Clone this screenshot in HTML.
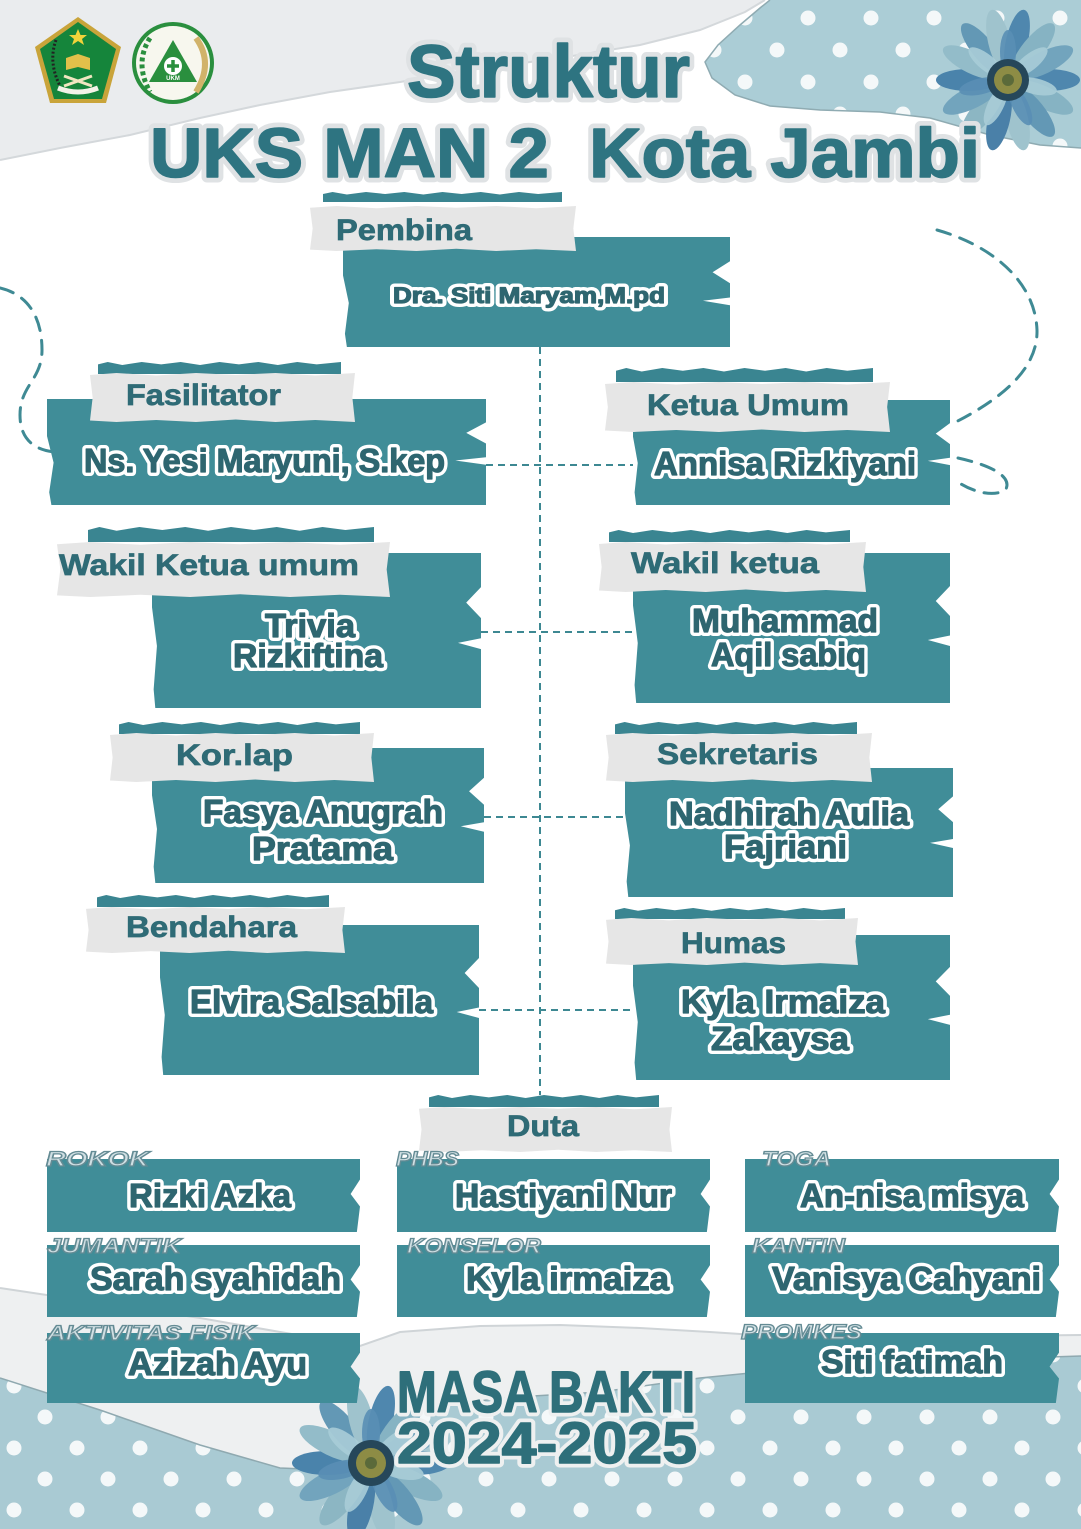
<!DOCTYPE html>
<html><head><meta charset="utf-8"><style>
html,body{margin:0;padding:0}
body{width:1081px;height:1529px;position:relative;overflow:hidden;background:#fff;font-family:"Liberation Sans",sans-serif}
svg.layer{position:absolute;left:0;top:0}
.t{position:absolute;background:#408d98;clip-path:polygon(0 0,100% 0,100% 22%,95.5% 32%,100% 42%,100% 55%,93% 58%,100% 62%,100% 100%,1% 100%,0.5% 88%,1.5% 60%,0 35%)}
.s{position:absolute;background:#3a8591;clip-path:polygon(0 20%,4% 0,10% 25%,18% 0,26% 20%,34% 0,42% 25%,50% 0,58% 20%,66% 0,74% 25%,82% 0,90% 20%,100% 0,100% 100%,0 100%)}
.g{position:absolute;background:#e6e6e6;clip-path:polygon(0 4%,10% 0,25% 5%,40% 0,55% 4%,70% 0,85% 5%,100% 0,99% 50%,100% 100%,85% 96%,70% 100%,55% 95%,40% 100%,25% 96%,10% 100%,0 97%,1% 50%)}
.d{position:absolute;background:#408d98;clip-path:polygon(0 0,100% 0,100% 28%,97% 48%,100% 65%,99% 100%,0 100%)}
</style></head><body>

<svg class="layer" width="1081" height="1529" viewBox="0 0 1081 1529">
<defs>
<pattern id="dotsB" width="63" height="62" patternUnits="userSpaceOnUse">
<rect width="63" height="62" fill="#a9cad3"/>
<circle cx="14" cy="22" r="7.5" fill="#f4f8f9"/>
<circle cx="45" cy="53" r="7.5" fill="#f4f8f9"/>
</pattern>
<pattern id="dotsT" width="63" height="64" patternUnits="userSpaceOnUse">
<rect width="63" height="64" fill="#abcdd6"/>
<circle cx="52" cy="18" r="7.5" fill="#f4f8f9"/>
<circle cx="21" cy="50" r="7.5" fill="#f4f8f9"/>
</pattern>
</defs>
<rect width="1081" height="1529" fill="#ffffff"/>
<polygon points="0,0 765,0 745,12 700,30 640,45 560,58 470,70 400,82 330,92 260,105 200,118 130,135 60,148 0,160" fill="#eaecee"/>
<polyline points="765,0 745,12 700,30 640,45 560,58 470,70 400,82 330,92 260,105 200,118 130,135 60,148 0,160" fill="none" stroke="#d4d8db" stroke-width="2"/>
<polygon points="770,0 1081,0 1081,148 1040,145 990,135 930,118 880,112 820,110 770,106 735,95 712,78 705,62 718,45 740,25 760,8" fill="url(#dotsT)"/>
<polyline points="770,0 760,8 740,25 718,45 705,62 712,78 735,95 770,106 820,110 880,112 930,118 990,135 1040,145 1081,148" fill="none" stroke="#8fabb2" stroke-width="1.5"/>
<polygon points="0,1288 80,1300 200,1318 360,1346 400,1332 480,1326 560,1325 640,1328 710,1332 800,1338 1081,1335 1081,1529 0,1529" fill="#eef0f1"/>
<polyline points="0,1288 80,1300 200,1318 360,1346 400,1332 480,1326 560,1325 640,1328 710,1332 800,1338 1081,1335" fill="none" stroke="#cfd4d7" stroke-width="2"/>
<polygon points="0,1378 100,1410 200,1445 280,1468 330,1470 370,1440 420,1410 500,1398 600,1392 700,1378 800,1368 900,1362 1081,1356 1081,1529 0,1529" fill="url(#dotsB)"/>
<polyline points="0,1378 100,1410 200,1445 280,1468 330,1470 370,1440 420,1410 500,1398 600,1392 700,1378 800,1368 900,1362 1081,1356" fill="none" stroke="#8fa9b0" stroke-width="1.5"/>

<g fill="none" stroke="#3f8a94" stroke-width="3" stroke-dasharray="14 10" stroke-linecap="round">
<path d="M0,288 C30,295 42,320 42,350 C42,380 20,385 20,415 C20,440 35,450 55,452"/>
<path d="M937,230 C990,245 1035,280 1037,330 C1038,370 1000,400 950,425"/>
<path d="M958,458 C990,465 1012,476 1006,489 C996,498 972,492 958,482"/>
</g>

<g>
<polygon points="78,17 121,47 106,103 50,103 35,47" fill="#c9a43a"/>
<polygon points="78,22 116,49 102,99 54,99 40,49" fill="#15853b"/>
<polygon points="78,29 80.5,35 87,35 82,39 84,45 78,41 72,45 74,39 69,35 75.5,35" fill="#f1d33a"/>
<path d="M66,58 L78,54 L90,58 L90,70 L78,67 L66,70 Z" fill="#e2c04a"/>
<path d="M64,76 L92,86 M92,76 L64,86" stroke="#f0e6c0" stroke-width="3"/>
<path d="M58,88 Q78,96 98,88" stroke="#f3f3e8" stroke-width="5" fill="none"/>
<path d="M56,40 Q48,62 60,86" stroke="#222" stroke-width="3" stroke-dasharray="2 2" fill="none"/>
<circle cx="173" cy="63" r="41" fill="#2a8f3e"/>
<circle cx="173" cy="63" r="37" fill="#f7f7ee"/>
<path d="M196,38 Q214,63 196,92" stroke="#d1b36a" stroke-width="6" fill="none"/>
<path d="M150,38 Q134,63 150,92" stroke="#2a8f3e" stroke-width="5" fill="none" stroke-dasharray="4 3"/>
<polygon points="173,40 197,82 149,82" fill="#2a8f3e"/>
<circle cx="173" cy="66" r="9" fill="#fff"/>
<path d="M173,60 V72 M167,66 H179" stroke="#2a8f3e" stroke-width="3.5"/>
<text x="173" y="80" font-family="Liberation Sans" font-size="6" font-weight="bold" fill="#fff" text-anchor="middle">UKM</text>
</g>

<g transform="translate(1008,80)">
<g>
<ellipse cx="40" cy="0" rx="32" ry="11" fill="#4f87ae" transform="rotate(0)"/>
<ellipse cx="40" cy="0" rx="32" ry="11" fill="#86b3c3" transform="rotate(26)"/>
<ellipse cx="40" cy="0" rx="32" ry="11" fill="#6398b5" transform="rotate(51)"/>
<ellipse cx="40" cy="0" rx="32" ry="11" fill="#9fc3cd" transform="rotate(77)"/>
<ellipse cx="40" cy="0" rx="32" ry="11" fill="#4a80a8" transform="rotate(103)"/>
<ellipse cx="40" cy="0" rx="32" ry="11" fill="#8cb6c3" transform="rotate(129)"/>
<ellipse cx="40" cy="0" rx="32" ry="11" fill="#72a4bd" transform="rotate(154)"/>
<ellipse cx="40" cy="0" rx="32" ry="11" fill="#4a83ab" transform="rotate(180)"/>
<ellipse cx="40" cy="0" rx="32" ry="11" fill="#93bcc9" transform="rotate(206)"/>
<ellipse cx="40" cy="0" rx="32" ry="11" fill="#6398b5" transform="rotate(231)"/>
<ellipse cx="40" cy="0" rx="32" ry="11" fill="#9fc3cd" transform="rotate(257)"/>
<ellipse cx="40" cy="0" rx="32" ry="11" fill="#4f87ae" transform="rotate(283)"/>
<ellipse cx="40" cy="0" rx="32" ry="11" fill="#86b3c3" transform="rotate(309)"/>
<ellipse cx="40" cy="0" rx="32" ry="11" fill="#72a4bd" transform="rotate(334)"/>
</g>
<g opacity="0.9">
<ellipse cx="28" cy="0" rx="22" ry="8" fill="#a9cdd8" transform="rotate(13)"/>
<ellipse cx="28" cy="0" rx="22" ry="8" fill="#5a8fb5" transform="rotate(64)"/>
<ellipse cx="28" cy="0" rx="22" ry="8" fill="#a9cdd8" transform="rotate(116)"/>
<ellipse cx="28" cy="0" rx="22" ry="8" fill="#5a8fb5" transform="rotate(167)"/>
<ellipse cx="28" cy="0" rx="22" ry="8" fill="#a9cdd8" transform="rotate(219)"/>
<ellipse cx="28" cy="0" rx="22" ry="8" fill="#5a8fb5" transform="rotate(270)"/>
<ellipse cx="28" cy="0" rx="22" ry="8" fill="#a9cdd8" transform="rotate(321)"/>
</g>
<circle r="21" fill="#26475a"/>
<circle r="14" fill="#8d8c45"/>
<circle r="6" fill="#5b6a3a"/>
</g>

<g transform="translate(371,1463)">
<g>
<ellipse cx="44" cy="0" rx="35" ry="12" fill="#4f87ae" transform="rotate(0)"/>
<ellipse cx="44" cy="0" rx="35" ry="12" fill="#86b3c3" transform="rotate(26)"/>
<ellipse cx="44" cy="0" rx="35" ry="12" fill="#6398b5" transform="rotate(51)"/>
<ellipse cx="44" cy="0" rx="35" ry="12" fill="#9fc3cd" transform="rotate(77)"/>
<ellipse cx="44" cy="0" rx="35" ry="12" fill="#4a80a8" transform="rotate(103)"/>
<ellipse cx="44" cy="0" rx="35" ry="12" fill="#8cb6c3" transform="rotate(129)"/>
<ellipse cx="44" cy="0" rx="35" ry="12" fill="#72a4bd" transform="rotate(154)"/>
<ellipse cx="44" cy="0" rx="35" ry="12" fill="#4a83ab" transform="rotate(180)"/>
<ellipse cx="44" cy="0" rx="35" ry="12" fill="#93bcc9" transform="rotate(206)"/>
<ellipse cx="44" cy="0" rx="35" ry="12" fill="#6398b5" transform="rotate(231)"/>
<ellipse cx="44" cy="0" rx="35" ry="12" fill="#9fc3cd" transform="rotate(257)"/>
<ellipse cx="44" cy="0" rx="35" ry="12" fill="#4f87ae" transform="rotate(283)"/>
<ellipse cx="44" cy="0" rx="35" ry="12" fill="#86b3c3" transform="rotate(309)"/>
<ellipse cx="44" cy="0" rx="35" ry="12" fill="#72a4bd" transform="rotate(334)"/>
</g>
<g opacity="0.9">
<ellipse cx="30" cy="0" rx="24" ry="9" fill="#a9cdd8" transform="rotate(13)"/>
<ellipse cx="30" cy="0" rx="24" ry="9" fill="#5a8fb5" transform="rotate(64)"/>
<ellipse cx="30" cy="0" rx="24" ry="9" fill="#a9cdd8" transform="rotate(116)"/>
<ellipse cx="30" cy="0" rx="24" ry="9" fill="#5a8fb5" transform="rotate(167)"/>
<ellipse cx="30" cy="0" rx="24" ry="9" fill="#a9cdd8" transform="rotate(219)"/>
<ellipse cx="30" cy="0" rx="24" ry="9" fill="#5a8fb5" transform="rotate(270)"/>
<ellipse cx="30" cy="0" rx="24" ry="9" fill="#a9cdd8" transform="rotate(321)"/>
</g>
<circle r="23" fill="#26475a"/>
<circle r="15" fill="#8d8c45"/>
<circle r="6" fill="#5b6a3a"/>
</g>
</svg>

<div class="t" style="left:343px;top:237px;width:387px;height:110px"></div>
<div class="t" style="left:47px;top:399px;width:439px;height:106px"></div>
<div class="t" style="left:633px;top:400px;width:317px;height:105px"></div>
<div class="t" style="left:152px;top:553px;width:329px;height:155px"></div>
<div class="t" style="left:633px;top:553px;width:317px;height:150px"></div>
<div class="t" style="left:152px;top:748px;width:332px;height:135px"></div>
<div class="t" style="left:625px;top:768px;width:328px;height:129px"></div>
<div class="t" style="left:160px;top:925px;width:319px;height:150px"></div>
<div class="t" style="left:633px;top:935px;width:317px;height:145px"></div>

<div class="s" style="left:323px;top:192px;width:239px;height:10px"></div>
<div class="s" style="left:98px;top:362px;width:243px;height:12px"></div>
<div class="s" style="left:616px;top:368px;width:257px;height:14px"></div>
<div class="s" style="left:88px;top:527px;width:286px;height:15px"></div>
<div class="s" style="left:609px;top:530px;width:241px;height:12px"></div>
<div class="s" style="left:119px;top:722px;width:241px;height:12px"></div>
<div class="s" style="left:615px;top:722px;width:242px;height:12px"></div>
<div class="s" style="left:97px;top:895px;width:232px;height:12px"></div>
<div class="s" style="left:615px;top:908px;width:230px;height:11px"></div>
<div class="s" style="left:429px;top:1095px;width:230px;height:12px"></div>

<div class="g" style="left:310px;top:206px;width:266px;height:45px"></div>
<div class="g" style="left:90px;top:373px;width:265px;height:49px"></div>
<div class="g" style="left:605px;top:382px;width:285px;height:50px"></div>
<div class="g" style="left:57px;top:542px;width:333px;height:55px"></div>
<div class="g" style="left:599px;top:542px;width:267px;height:50px"></div>
<div class="g" style="left:110px;top:733px;width:264px;height:49px"></div>
<div class="g" style="left:606px;top:733px;width:266px;height:49px"></div>
<div class="g" style="left:86px;top:907px;width:259px;height:46px"></div>
<div class="g" style="left:606px;top:918px;width:252px;height:47px"></div>
<div class="g" style="left:419px;top:1107px;width:253px;height:45px"></div>

<div class="d" style="left:47px;top:1159px;width:313px;height:73px"></div>
<div class="d" style="left:397px;top:1159px;width:313px;height:73px"></div>
<div class="d" style="left:745px;top:1159px;width:314px;height:73px"></div>
<div class="d" style="left:47px;top:1245px;width:313px;height:72px"></div>
<div class="d" style="left:397px;top:1245px;width:313px;height:72px"></div>
<div class="d" style="left:745px;top:1245px;width:314px;height:72px"></div>
<div class="d" style="left:47px;top:1333px;width:313px;height:70px"></div>
<div class="d" style="left:745px;top:1333px;width:314px;height:70px"></div>

<svg class="layer" width="1081" height="1529" viewBox="0 0 1081 1529" font-family="'Liberation Sans', sans-serif" font-weight="bold">
<g fill="none" stroke="#3d8892" stroke-width="2" stroke-dasharray="7 5">
<path d="M540,347 V1095"/>
<path d="M486,465 H633"/>
<path d="M481,632 H633"/>
<path d="M484,817 H625"/>
<path d="M479,1010 H633"/>
</g>

<!-- title -->
<use href="#ttl" fill="none" stroke="#dfe2e4" stroke-width="11" stroke-linejoin="round"/>
<g fill="#2e7481" stroke="#2e7481" stroke-width="1.6" stroke-linejoin="round">
<g id="ttl">
<text x="407" y="97" font-size="74" textLength="283" lengthAdjust="spacingAndGlyphs">Struktur</text>
<text x="150" y="177" font-size="70" textLength="830" lengthAdjust="spacingAndGlyphs">UKS MAN 2&#160; Kota Jambi</text>
</g>
</g>

<!-- labels -->
<g fill="#2f6b76" stroke="#2f6b76" stroke-width="0.7" font-size="30">
<text x="336" y="240" textLength="136" lengthAdjust="spacingAndGlyphs">Pembina</text>
<text x="126" y="405" textLength="155" lengthAdjust="spacingAndGlyphs">Fasilitator</text>
<text x="647" y="415" textLength="202" lengthAdjust="spacingAndGlyphs">Ketua Umum</text>
<text x="59" y="575" textLength="300" lengthAdjust="spacingAndGlyphs">Wakil Ketua umum</text>
<text x="631" y="573" textLength="188" lengthAdjust="spacingAndGlyphs">Wakil ketua</text>
<text x="176" y="765" textLength="117" lengthAdjust="spacingAndGlyphs">Kor.lap</text>
<text x="657" y="764" textLength="161" lengthAdjust="spacingAndGlyphs">Sekretaris</text>
<text x="126" y="937" textLength="171" lengthAdjust="spacingAndGlyphs">Bendahara</text>
<text x="681" y="953" textLength="105" lengthAdjust="spacingAndGlyphs">Humas</text>
<text x="507" y="1136" textLength="72" lengthAdjust="spacingAndGlyphs">Duta</text>
</g>

<!-- names -->
<use href="#nm" font-size="33" fill="#fff" stroke="#ffffff" stroke-width="8" stroke-linejoin="round"/>
<g fill="#2e6670" stroke="#2e6670" stroke-width="1.2" stroke-linejoin="round" font-size="33">
<g id="nm">
<text x="393" y="303" font-size="22" textLength="272" lengthAdjust="spacingAndGlyphs">Dra. Siti Maryam,M.pd</text>
<text x="84" y="472" textLength="361" lengthAdjust="spacingAndGlyphs">Ns. Yesi Maryuni, S.kep</text>
<text x="654" y="475" textLength="262" lengthAdjust="spacingAndGlyphs">Annisa Rizkiyani</text>
<text x="265" y="637" textLength="90" lengthAdjust="spacingAndGlyphs">Trivia</text>
<text x="233" y="667" textLength="150" lengthAdjust="spacingAndGlyphs">Rizkiftina</text>
<text x="692" y="632" textLength="186" lengthAdjust="spacingAndGlyphs">Muhammad</text>
<text x="711" y="666" textLength="155" lengthAdjust="spacingAndGlyphs">Aqil sabiq</text>
<text x="203" y="823" textLength="240" lengthAdjust="spacingAndGlyphs">Fasya Anugrah</text>
<text x="252" y="860" textLength="141" lengthAdjust="spacingAndGlyphs">Pratama</text>
<text x="669" y="825" textLength="240" lengthAdjust="spacingAndGlyphs">Nadhirah Aulia</text>
<text x="724" y="858" textLength="123" lengthAdjust="spacingAndGlyphs">Fajriani</text>
<text x="190" y="1013" textLength="243" lengthAdjust="spacingAndGlyphs">Elvira Salsabila</text>
<text x="681" y="1013" textLength="204" lengthAdjust="spacingAndGlyphs">Kyla Irmaiza</text>
<text x="711" y="1050" textLength="138" lengthAdjust="spacingAndGlyphs">Zakaysa</text>
<text x="129" y="1207" textLength="162" lengthAdjust="spacingAndGlyphs">Rizki Azka</text>
<text x="455" y="1207" textLength="217" lengthAdjust="spacingAndGlyphs">Hastiyani Nur</text>
<text x="800" y="1207" textLength="224" lengthAdjust="spacingAndGlyphs">An-nisa misya</text>
<text x="90" y="1290" textLength="251" lengthAdjust="spacingAndGlyphs">Sarah syahidah</text>
<text x="466" y="1290" textLength="203" lengthAdjust="spacingAndGlyphs">Kyla irmaiza</text>
<text x="772" y="1290" textLength="269" lengthAdjust="spacingAndGlyphs">Vanisya Cahyani</text>
<text x="128" y="1375" textLength="179" lengthAdjust="spacingAndGlyphs">Azizah Ayu</text>
<text x="821" y="1373" textLength="182" lengthAdjust="spacingAndGlyphs">Siti fatimah</text>
</g>
</g>

<!-- tags -->
<g fill="#d0dfe3" stroke="#648b94" stroke-width="1.3" font-size="21" font-style="italic">
<text x="46" y="1166" textLength="103" lengthAdjust="spacingAndGlyphs">ROKOK</text>
<text x="396" y="1166" textLength="63" lengthAdjust="spacingAndGlyphs">PHBS</text>
<text x="762" y="1166" textLength="69" lengthAdjust="spacingAndGlyphs">TOGA</text>
<text x="47" y="1253" textLength="134" lengthAdjust="spacingAndGlyphs">JUMANTIK</text>
<text x="407" y="1253" textLength="134" lengthAdjust="spacingAndGlyphs">KONSELOR</text>
<text x="752" y="1253" textLength="93" lengthAdjust="spacingAndGlyphs">KANTIN</text>
<text x="47" y="1340" textLength="208" lengthAdjust="spacingAndGlyphs">AKTIVITAS FISIK</text>
<text x="741" y="1339" textLength="121" lengthAdjust="spacingAndGlyphs">PROMKES</text>
</g>

<!-- masa bakti -->
<use href="#mb" font-size="58" fill="none" stroke="#eef0f0" stroke-width="9" stroke-linejoin="round"/>
<g fill="#2e6f7a" stroke="#2e6f7a" stroke-width="1.5" stroke-linejoin="round" font-size="58">
<g id="mb">
<text x="397" y="1412" textLength="298" lengthAdjust="spacingAndGlyphs">MASA BAKTI</text>
<text x="397" y="1463" textLength="300" lengthAdjust="spacingAndGlyphs">2024-2025</text>
</g>
</g>
</svg>
</body></html>
